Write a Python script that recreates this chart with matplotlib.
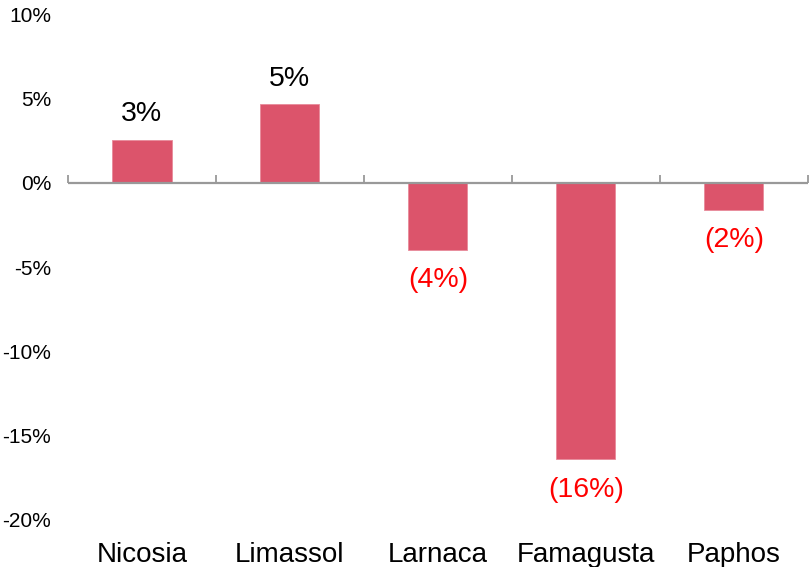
import numpy as np
import matplotlib.pyplot as plt
from matplotlib.ticker import FuncFormatter

plt.rcParams['font.family'] = ['Liberation Sans', 'DejaVu Sans']

# donnees
villes = ['Nicosia', 'Limassol', 'Larnaca', 'Famagusta', 'Paphos']
variation = [2.55, 4.65, -3.99, -16.4, -1.61]   # en %
etiquettes = ['3%', '5%', '(4%)', '(16%)', '(2%)']

couleur_barre = '#DC546B'

fig = plt.figure(figsize=(8.11, 5.67), dpi=100)
ax = fig.add_axes([0.0838, 0.0829, 0.9122, 0.8924])

x = np.arange(len(villes))
barres = ax.bar(x, variation, width=0.4, color=couleur_barre,
                edgecolor='#E88A9A', linewidth=0.6, zorder=2)

ax.set_xlim(-0.5, len(villes) - 0.5)
ax.set_ylim(-20, 10)
ax.set_yticks(np.arange(-20, 11, 5))
ax.yaxis.set_major_formatter(FuncFormatter(lambda v, p: '%d%%' % v))
ax.tick_params(axis='y', length=0, labelsize=15, pad=12)

# noms des villes en bas
ax.set_xticks(x)
ax.set_xticklabels(villes, fontsize=20)
ax.tick_params(axis='x', length=0, pad=16)

for s in ax.spines.values():
    s.set_visible(False)

# axe horizontal a zero, avec les graduations entre les barres
ax.axhline(0, color='#999999', linewidth=1.6, zorder=3)
sec = ax.secondary_xaxis(2.0 / 3.0)
sec.set_xticks(np.arange(-0.5, len(villes), 1.0))
sec.set_xticklabels([])
sec.tick_params(axis='x', direction='out', length=6, width=1.3, color='#999999')
for s in sec.spines.values():
    s.set_visible(False)

# etiquettes des barres
for xi, v, lab in zip(x, variation, etiquettes):
    if v >= 0:
        ax.annotate(lab, (xi, v), xytext=(0, 9), textcoords='offset points',
                    ha='center', va='bottom', fontsize=20.5, color='black')
    else:
        ax.annotate(lab, (xi, v), xytext=(0, -12.5), textcoords='offset points',
                    ha='center', va='top', fontsize=20.5, color='red')

plt.savefig('out.png', dpi=100)
